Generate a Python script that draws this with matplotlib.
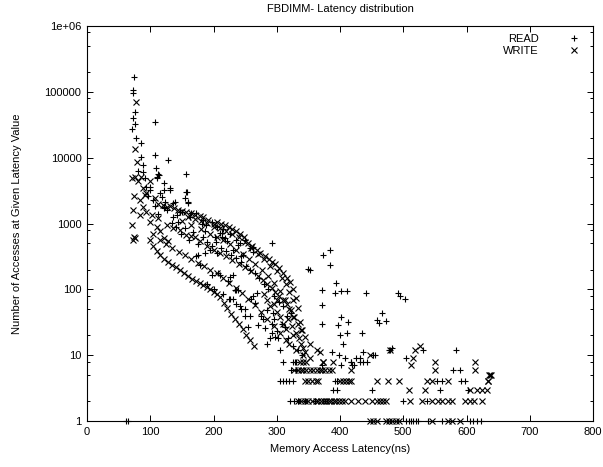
import matplotlib
matplotlib.use("Agg")
import matplotlib.pyplot as plt
from matplotlib.ticker import LogLocator, NullFormatter

plt.rcParams['font.family'] = ['Liberation Sans', 'DejaVu Sans']

# READ latencies (ns) and counts
read_x = [
    # spike / top left
    74, 73, 72, 76, 72, 76, 71, 108, 77, 86, 107, 85, 128, 88, 109, 156, 114, 81, 89, 113,
    111, 92, 121, 100, 158, 131, 115, 155, 160, 139, 121, 150, 136, 165, 144, 134,
    94, 100, 110, 121, 131, 123, 136, 157, 160, 142, 147, 163, 173, 184, 197, 107, 121,
    97, 104, 112, 118, 126,
    # middle band
    178, 186, 194, 197, 205, 207, 210, 210, 213, 218, 221, 223, 231, 239, 242, 244, 247,
    263, 263, 293, 173, 176, 226, 231, 234, 225, 231, 262, 294, 213,
    186, 202, 182, 188, 205, 215, 226, 235, 250, 257,
    140, 148, 155, 162, 168, 175, 183, 190, 198, 204, 212, 220, 228, 236, 244, 252, 258,
    266, 272, 280, 286, 296, 303, 310, 316,
    # lower part of the cloud
    239, 226, 243, 265, 255, 271, 292, 300, 289, 302, 284, 313, 323, 268, 242, 260, 236,
    250, 278, 285, 305, 297, 292, 310, 329, 331,
    190, 200, 215, 235, 250, 258, 275, 282, 295, 308, 318, 326, 334, 340,
    # scattered tail
    349, 384, 373, 384, 352, 394, 371, 402, 411, 392, 441, 492, 495, 502, 371, 467, 458,
    472, 461, 402, 413, 397, 372, 435, 411, 400, 405, 479, 482, 437, 399, 387, 584, 531,
    505, 408, 418, 422, 426, 431, 437, 442, 452, 402, 419, 371, 455, 478, 450,
    # count rows
    62, 65, 505, 509, 513, 516, 520, 524, 539, 562, 605, 611, 617, 623,
    321, 328, 333, 345, 360, 376, 499, 537,
    389, 395, 558, 602,
    305, 310, 315, 320, 325, 392, 396, 553, 562, 592, 597,
    323, 578, 589,
    326, 331, 418, 431,
]
read_y = [
    167000, 105000, 95000, 50000, 40000, 32000, 27000, 35000, 20000, 16600, 11000, 10400, 9100, 7800, 6900, 5600, 5500, 6200, 6000, 5600,
    4900, 4900, 4100, 3600, 3000, 3200, 2900, 2400, 2100, 2150, 1800, 1500, 1260, 1450, 1070, 1020,
    3630, 3240, 5100, 3240, 3470, 2140, 2040, 3020, 2040, 1350, 1510, 1260, 1450, 1120, 1070, 1820, 1700,
    2600, 2300, 1400, 2500, 1600,
    234, 355, 400, 166, 355, 174, 710, 166, 630, 600, 540, 132, 400, 470, 500, 316, 331,
    372, 447, 500, 316, 331, 155, 166, 98, 72, 72, 78, 44, 710,
    760, 630, 1000, 940, 900, 820, 700, 560, 560, 420,
    900, 700, 850, 560, 750, 480, 620, 520, 460, 520, 420, 380, 330, 300, 260, 230, 200,
    180, 150, 120, 100, 80, 65, 55, 40,
    98, 71, 51, 62, 27, 29, 30, 23, 18, 18, 15, 27, 44, 87, 55, 72, 98,
    40, 35, 48, 12, 19, 22, 8, 8, 6,
    120, 100, 85, 60, 50, 40, 40, 26, 35, 30, 18, 14, 12, 10,
    204, 390, 330, 235, 197, 123, 98, 96, 96, 87, 89, 89, 79, 71, 58, 44, 34,
    33, 31, 38, 32, 29, 30, 22, 22, 20, 15, 12, 13, 11, 10, 11, 12, 12,
    9, 9, 8, 7, 9, 9, 8, 8, 10, 7, 7, 7, 10, 12, 3,
    1, 1, 1, 1, 1, 1, 1, 1, 1, 1, 1, 1, 1, 1,
    2, 2, 2, 2, 2, 2, 2, 2,
    3, 3, 3, 3,
    4, 4, 4, 4, 4, 4, 4, 4, 4, 4, 4,
    6, 6, 6,
    8, 8, 8, 8,
]

# WRITE latencies (ns) and counts
write_x = [
    # spike / left column
    77, 76, 79, 76, 71, 81, 74, 73, 71, 75, 73, 76,
    # upper band
    86, 89, 92, 94, 100, 107, 113, 120, 126, 131, 138, 144, 150, 157, 164, 171, 178, 184,
    192, 200, 206, 212, 218, 224, 230, 236, 242, 248, 255, 261, 268, 274, 281, 287, 293,
    298, 304, 310, 316, 321, 326, 330, 333, 336, 338,
    160, 170, 180, 190, 200, 210, 220, 230, 240, 250, 260, 270, 280, 290, 300, 308, 314,
    320, 325,
    # second band
    84, 89, 94, 84, 102, 100, 113, 110, 115, 126, 121, 136, 128, 147, 157, 165, 171, 179,
    189, 200, 210, 220, 230, 240, 250, 260, 270, 278, 285, 292, 298, 304, 310, 316, 322,
    328, 334, 340, 344,
    # band in between
    150, 165, 180, 195, 205, 215, 226, 236, 246, 256, 266, 276, 286, 296, 305, 313, 320, 326,
    # lower bands
    105, 115, 125, 135, 145, 155, 165, 175, 185, 195, 205, 215, 225, 235, 245, 255, 265,
    275, 285, 295, 305, 315,
    100, 105, 110, 116, 122, 128, 134, 140, 147, 153, 159, 166, 172, 178, 184, 189, 195,
    200, 205, 210, 216, 222, 228, 234, 240, 246, 252, 258, 264,
    # cluster at the end of the cloud
    295, 300, 305, 310, 315, 318, 324, 330, 335, 338, 342, 345, 300, 290, 285, 280,
    # scattered tail
    352, 363, 368, 342, 352, 373, 418, 447, 479, 526, 518, 515, 513, 550, 613, 637, 634,
    330, 320, 325,
    # count rows
    447, 452, 458, 473, 478, 483, 489, 494, 545, 570, 577, 590,
    334, 339, 344, 350, 356, 362, 366, 370, 374, 378, 382, 386, 390, 394, 398, 403, 408,
    418, 429, 439, 450, 458, 463, 468, 473, 510, 529, 545, 555, 562, 570, 577, 597, 605,
    612, 624,
    509, 535, 605, 616, 624, 632,
    344, 350, 356, 362, 365, 400, 405, 410, 414, 418, 458, 476, 494, 537, 545, 570, 634,
    636, 638,
    328, 333, 338, 342, 347, 352, 357, 364, 368, 372, 377, 382, 387, 550, 613,
    336, 341, 347, 373, 389,
]
write_y = [
    70000, 13500, 8700, 5100, 4900, 4400, 2630, 1620, 950, 630, 560, 600,
    5100, 3500, 2700, 2900, 4400, 2400, 1950, 1900, 1800, 1820, 1700, 1620, 1550, 1500, 1420, 1350, 1300, 1260,
    1150, 1000, 1050, 980, 940, 900, 820, 780, 700, 620, 500, 450, 400, 360, 320, 290, 260,
    240, 210, 180, 150, 130, 100, 75, 52, 32, 24,
    1250, 1180, 1100, 1020, 900, 850, 780, 700, 620, 520, 420, 350, 290, 230, 190, 150, 120,
    90, 70,
    2300, 1800, 1500, 1350, 1350, 1070, 1200, 890, 760, 950, 600, 850, 540, 800, 680, 650, 630, 540,
    450, 400, 360, 320, 280, 245, 215, 190, 160, 140, 120, 105, 90, 80, 68, 60, 48,
    38, 30, 24, 19,
    1100, 950, 820, 700, 620, 560, 480, 400, 340, 290, 240, 200, 160, 125, 95, 70, 50, 38,
    700, 560, 480, 420, 370, 330, 290, 255, 225, 200, 175, 150, 125, 105, 88, 72, 58,
    46, 36, 28, 22, 17,
    560, 450, 380, 330, 290, 260, 235, 215, 195, 175, 160, 145, 135, 125, 115, 110, 100,
    92, 85, 77, 62, 52, 42, 36, 30, 25, 20, 17, 14,
    60, 45, 38, 30, 25, 36, 28, 22, 18, 15, 13, 11, 70, 55, 70, 85,
    15, 12, 11, 10, 9, 8, 6, 10, 12, 14, 12, 9, 7, 8, 8, 5, 4,
    12, 15, 20,
    1, 1, 1, 1, 1, 1, 1, 1, 1, 1, 1, 1,
    2, 2, 2, 2, 2, 2, 2, 2, 2, 2, 2, 2, 2, 2, 2, 2, 2,
    2, 2, 2, 2, 2, 2, 2, 2, 2, 2, 2, 2, 2, 2, 2, 2, 2,
    2, 2,
    3, 3, 3, 3, 3, 3,
    4, 4, 4, 4, 4, 4, 4, 4, 4, 4, 4, 4, 4, 4, 4, 4, 4,
    5, 5,
    6, 6, 6, 6, 6, 6, 6, 6, 6, 6, 6, 6, 6, 6, 6,
    8, 8, 8, 8, 8,
]

x_ticks = [0, 100, 200, 300, 400, 500, 600, 700, 800]
y_ticks = [1, 10, 100, 1000, 10000, 100000, 1000000]
y_labels = ['1', '10', '100', '1000', '10000', '100000', '1e+06']

fig = plt.figure(figsize=(6.03, 4.67), dpi=100)
ax = fig.add_axes([87/603, 46/467, 506/603, 395/467])

ax.plot(read_x, read_y, linestyle='none', marker='+', ms=5, mew=0.8,
        color='black', label='READ', clip_on=False)
ax.plot(write_x, write_y, linestyle='none', marker='x', ms=4, mew=0.8,
        color='black', label='WRITE', clip_on=False)

ax.set_yscale('log')
ax.set_xlim(0, 800)
ax.set_ylim(1, 1e6)
ax.set_xticks(x_ticks)
ax.set_xticklabels([str(v) for v in x_ticks])
ax.set_yticks(y_ticks)
ax.set_yticklabels(y_labels)
ax.yaxis.set_minor_locator(LogLocator(base=10, subs=(2, 5, 8)))
ax.yaxis.set_minor_formatter(NullFormatter())

ax.tick_params(which='both', direction='in', top=True, right=True, labelsize=8, width=0.7)
ax.tick_params(which='major', length=4.5, pad=4)
ax.tick_params(which='minor', length=2.2)
for s in ax.spines.values():
    s.set_linewidth(0.8)

ax.set_xlabel('Memory Access Latency(ns)', fontsize=8, labelpad=5)
ax.set_ylabel('Number of Accesses at Given Latency Value', fontsize=8, labelpad=16)
ax.set_title('FBDIMM- Latency distribution', fontsize=8, pad=10)

ax.legend(loc='upper right', frameon=False, markerfirst=False, fontsize=8,
          handletextpad=2.2, labelspacing=0.2, borderaxespad=0.3, handlelength=2)

plt.savefig('out.png', dpi=100)
